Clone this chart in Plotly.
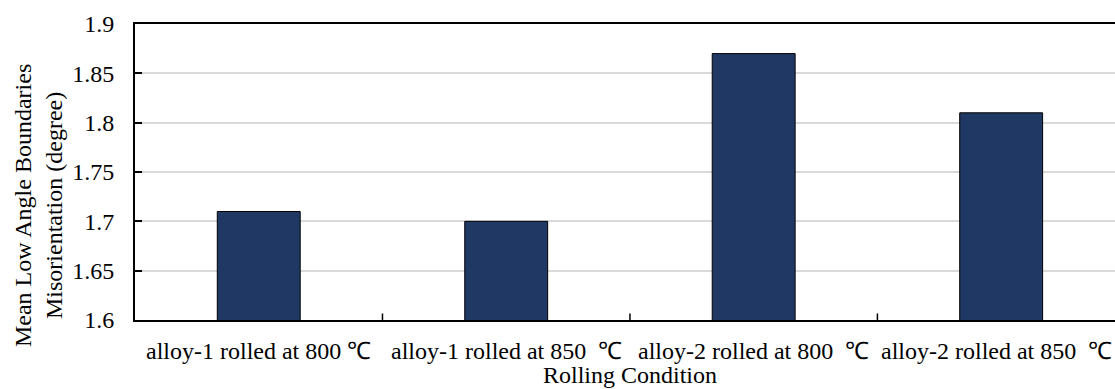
import plotly.graph_objects as go

# Rolling conditions and mean low-angle boundary misorientation (degree)
categories = [
    "alloy-1 rolled at 800 ℃",
    "alloy-1 rolled at 850  ℃",
    "alloy-2 rolled at 800  ℃",
    "alloy-2 rolled at 850  ℃",
]
misorientation = [1.71, 1.70, 1.87, 1.81]
y_ticks = [1.6, 1.65, 1.7, 1.75, 1.8, 1.85, 1.9]
y_tick_text = ["1.6", "1.65", "1.7", "1.75", "1.8", "1.85", "1.9"]

FONT = "Liberation Serif, Times New Roman, serif"
FS = 24
x_positions = list(range(len(categories)))

fig = go.Figure()
fig.add_trace(go.Bar(
    x=x_positions,
    y=misorientation,
    marker=dict(color="#203864", line=dict(color="#000000", width=1)),
    width=0.335,
    hoverinfo="y",
))

fig.update_layout(
    width=1115,
    height=389,
    margin=dict(l=135, r=0, t=24, b=69),
    paper_bgcolor="white",
    plot_bgcolor="white",
    showlegend=False,
    font=dict(family=FONT, size=FS, color="#000000"),
    xaxis=dict(
        range=[-0.5, 3.46],
        tickmode="array",
        tickvals=x_positions,
        showticklabels=False,
        ticks="",
        showgrid=False,
        showline=True,
        linecolor="#000000",
        linewidth=2,
        mirror=True,
        zeroline=False,
    ),
    yaxis=dict(
        range=[1.6, 1.9],
        tickmode="array",
        tickvals=y_ticks,
        ticktext=y_tick_text,
        ticks="inside",
        ticklen=7,
        tickwidth=1.5,
        tickcolor="#000000",
        showgrid=True,
        gridcolor="#d9d9d9",
        gridwidth=1.5,
        showline=True,
        linecolor="#000000",
        linewidth=2,
        zeroline=False,
        ticklabelstandoff=14,
        tickfont=dict(family=FONT, size=FS, color="#000000"),
    ),
)

# Category labels under each bar (the last one nudged so it stays inside the page)
for xi, label in zip(x_positions, categories):
    fig.add_annotation(
        text=label,
        xref="x", yref="paper", x=xi, y=0,
        xshift=-5 if xi == x_positions[-1] else 0,
        yshift=-31, xanchor="center", yanchor="middle",
        showarrow=False,
        font=dict(family=FONT, size=FS, color="#000000"),
    )

# Category boundary tick marks on the bottom axis
for b in [0.5, 1.5, 2.5]:
    fig.add_shape(
        type="line", xref="x", yref="paper",
        x0=b, x1=b, y0=0, y1=0.022,
        line=dict(color="#000000", width=1.5),
    )

# Axis titles
fig.add_annotation(
    text="Mean Low Angle Boundaries<br>Misorientation (degree)",
    xref="paper", yref="paper", x=0, y=0.385,
    xshift=-97, xanchor="center", yanchor="middle",
    textangle=-90, showarrow=False,
    font=dict(family=FONT, size=FS, color="#000000"),
)
fig.add_annotation(
    text="Rolling Condition",
    xref="x", yref="paper", x=1.5, y=0,
    yshift=-55, xanchor="center", yanchor="middle",
    showarrow=False,
    font=dict(family=FONT, size=FS, color="#000000"),
)

fig.write_html("out.html")
